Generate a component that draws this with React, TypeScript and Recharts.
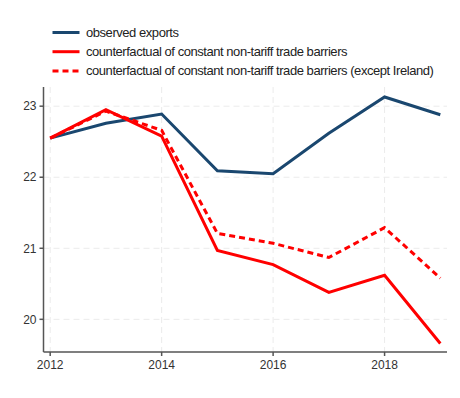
import { LineChart, Line, XAxis, YAxis, CartesianGrid } from "recharts";

const years = [2012, 2013, 2014, 2015, 2016, 2017, 2018, 2019];
const observed = [22.55, 22.76, 22.89, 22.09, 22.05, 22.62, 23.13, 22.88];
const constantNtb = [22.55, 22.95, 22.58, 20.97, 20.77, 20.38, 20.62, 19.66];
const constantNtbExIreland = [22.55, 22.93, 22.66, 21.21, 21.07, 20.87, 21.29, 20.58];
const xTicks = [2012, 2014, 2016, 2018];
const yTicks = [20, 21, 22, 23];

const legendItems = [
  { label: "observed exports", color: "#1a476f", dash: undefined },
  { label: "counterfactual of constant non-tariff trade barriers", color: "#ff0000", dash: undefined },
  { label: "counterfactual of constant non-tariff trade barriers (except Ireland)", color: "#ff0000", dash: "6 4" },
];

const data = years.map((y, i) => ({
  year: y,
  observed: observed[i],
  ntb: constantNtb[i],
  ntbEx: constantNtbExIreland[i],
}));

const font = "'Liberation Sans', Arial, sans-serif";
const axisColor = "#555";
const tickStyle = { fill: "#333", fontSize: 12, fontFamily: font };

export default function App() {
  return (
    <div style={{ position: "absolute", left: 0, top: 0, width: 460, height: 398, background: "#fff" }}>
      <svg width={460} height={90} style={{ position: "absolute", left: 0, top: 0 }}>
        {legendItems.map((it, i) => {
          const y = 32.5 + i * 19.2;
          return (
            <g key={i}>
              <line x1={52.5} x2={79.5} y1={y} y2={y} stroke={it.color} strokeWidth={3} strokeDasharray={it.dash} />
              <text x={86} y={y + 4.5} fontSize={13} fontFamily={font} fill="#222" letterSpacing={-0.45}>
                {it.label}
              </text>
            </g>
          );
        })}
      </svg>
      <div style={{ position: "absolute", left: 0, top: 0 }}>
        <LineChart width={460} height={398} data={data} margin={{ top: 87, right: 13, bottom: 16, left: 0 }}>
          <CartesianGrid stroke="#ebebeb" strokeDasharray="6 4" verticalValues={xTicks} horizontalValues={yTicks} />
          <XAxis
            dataKey="year"
            type="number"
            domain={[2011.88, 2019.12]}
            ticks={xTicks}
            allowDataOverflow
            height={30}
            tick={tickStyle}
            tickSize={4}
            tickMargin={4}
            stroke={axisColor}
            strokeWidth={1.5}
          />
          <YAxis
            type="number"
            domain={[19.54, 23.27]}
            ticks={yTicks}
            allowDataOverflow
            width={43.5}
            tick={tickStyle}
            tickSize={4}
            tickMargin={3}
            stroke={axisColor}
            strokeWidth={1.5}
          />
          <Line dataKey="observed" stroke="#1a476f" strokeWidth={3} dot={false} isAnimationActive={false} />
          <Line dataKey="ntb" stroke="#ff0000" strokeWidth={3} dot={false} isAnimationActive={false} />
          <Line dataKey="ntbEx" stroke="#ff0000" strokeWidth={3} strokeDasharray="6 4" dot={false} isAnimationActive={false} />
        </LineChart>
      </div>
    </div>
  );
}
